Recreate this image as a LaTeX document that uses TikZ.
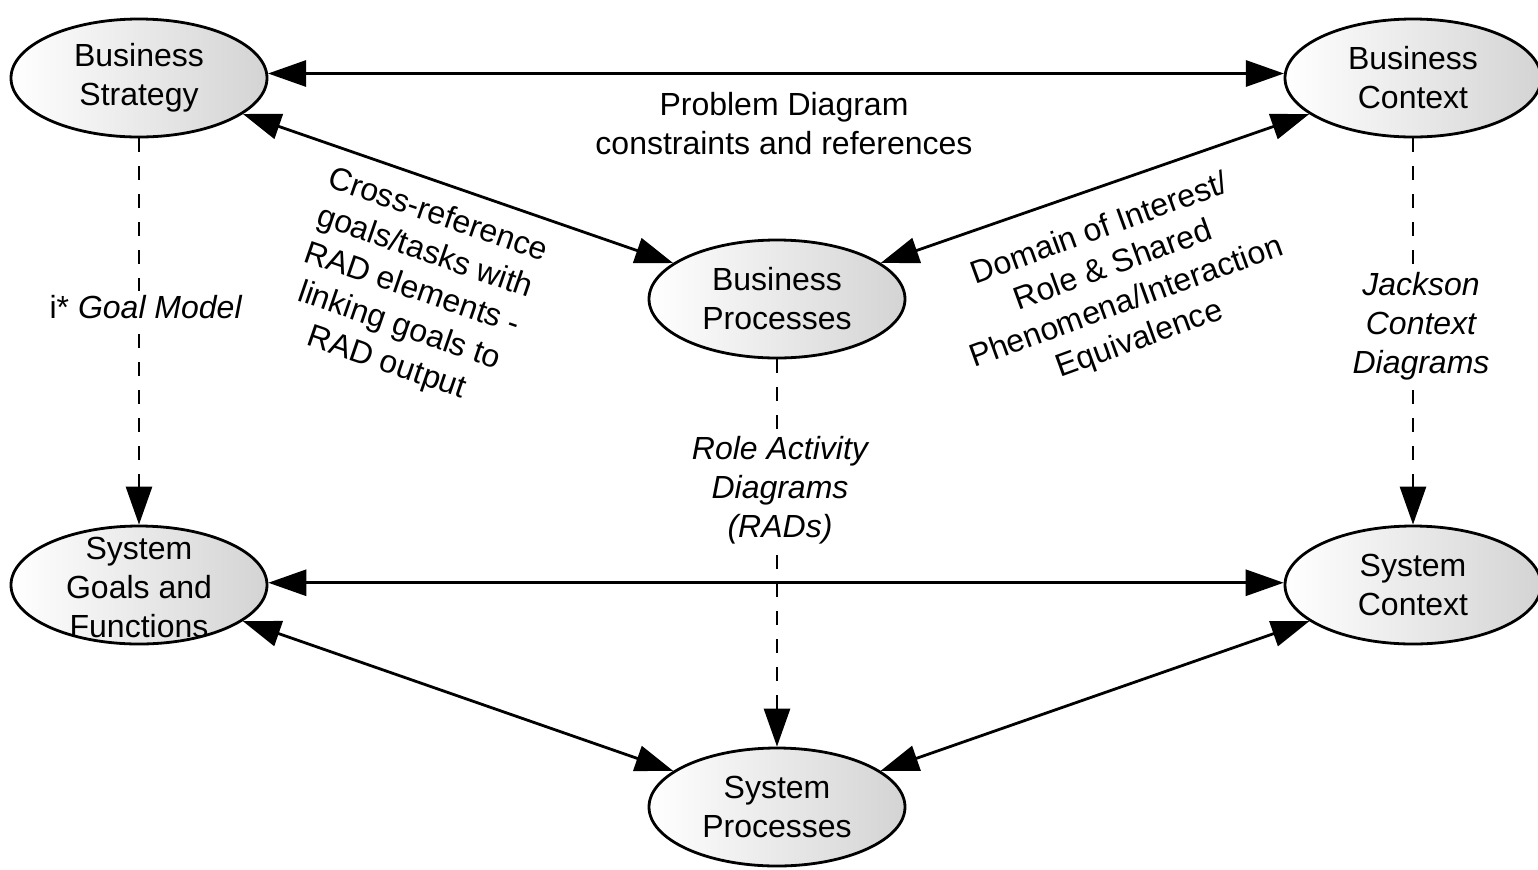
\documentclass[tikz,border=0pt]{standalone}
\usepackage{fontspec}
\setmainfont{Liberation Sans}
\usetikzlibrary{shapes.geometric,arrows.meta}
\begin{document}
\begin{tikzpicture}[x=0.5pt,y=-0.5pt,
  every node/.style={font=\fontsize{16}{19.5}\selectfont},
  ell/.style={ellipse, draw, line width=1.4pt, minimum width=128pt, minimum height=59pt,
    inner sep=0pt, left color=white, right color=black!17},
  txt/.style={align=center, inner sep=0pt},
  lbl/.style={align=center, inner sep=2pt, fill=white},
  tip/.tip={Triangle[length=19pt,width=13pt]},
  bi/.style={line width=1.4pt, tip-tip},
  da/.style={line width=1.4pt, dash pattern=on 7pt off 7pt, -tip}]
\useasboundingbox (0,0) rectangle (1538,869);
% ellipses
\node[ell] (BS)  at (139,78)  {};
\node[ell] (BC)  at (1413,78) {};
\node[ell] (BP)  at (777,299) {};
\node[ell] (SGF) at (139,585) {};
\node[ell] (SC)  at (1413,585) {};
\node[ell] (SP)  at (777,807) {};
% connectors
\draw[bi] (BS.2) -- (BC.178);
\draw[bi] (BS) -- (BP);
\draw[bi] (BC) -- (BP);
\draw[bi] (SGF.1) -- (SC.179);
\draw[bi] (SGF) -- (SP);
\draw[bi] (SC) -- (SP);
\draw[da] (BS) -- (SGF);
\draw[da] (BC) -- (SC);
\draw[da] (BP) -- (SP);
% ellipse texts
\node[txt] (BSt)  at (BS)  {Business\\Strategy};
\node[txt] (BCt)  at (BC)  {Business\\Context};
\node[txt] (BPt)  at (BP)  {Business\\Processes};
\node[txt] (SGFt) at (139,587) {System\\Goals and\\Functions};
\node[txt] (SCt)  at (SC)  {System\\Context};
\node[txt] (SPt)  at (SP)  {System\\Processes};
% labels
\node[txt] (pd) at (784,124) {Problem Diagram\\constraints and references};
\node[lbl] (gm) at (146,307) {i* \textit{Goal Model}};
\node[lbl, font=\fontsize{16}{19.5}\selectfont\itshape] (jk) at (1421,326) {Jackson\\Context\\Diagrams};
\node[lbl, font=\fontsize{16}{19.5}\selectfont\itshape] (rad) at (780,490) {Role Activity\\Diagrams\\(RADs)};
\node[txt, rotate=-19] (cr) at (412,290) {Cross-reference\\goals/tasks with\\RAD elements -\\linking goals to\\RAD output};
\node[txt, rotate=20] (dm) at (1120,285) {Domain of Interest/\\Role \& Shared\\Phenomena/Interaction\\Equivalence};
\end{tikzpicture}
\end{document}
